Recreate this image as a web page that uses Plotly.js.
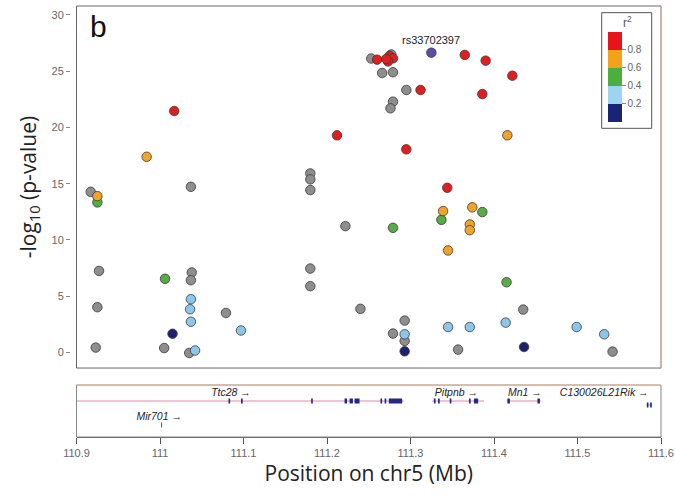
<!DOCTYPE html>
<html>
<head>
<meta charset="utf-8">
<script src="https://cdn.plot.ly/plotly-3.0.1.min.js"></script>
<style>html,body{margin:0;padding:0;background:#fff;}#chart{width:675px;height:500px;}</style>
</head>
<body>
<div id="chart"></div>
<script>
// ---- SNP association data (position in Mb, -log10 p, LD bin) ----
const snpPos = [110.917,110.925,110.925,110.927,110.925,110.923,110.984,111.017,111.006,111.015,
  111.005,111.037,111.038,111.037,111.037,111.036,111.037,111.035,111.042,111.079,
  111.097,111.180,111.180,111.180,111.180,111.180,111.222,111.212,111.240,111.253,
  111.260,111.277,111.275,111.279,111.273,111.271,111.266,111.279,111.279,111.276,
  111.295,111.312,111.325,111.365,111.390,111.422,111.386,111.416,111.295,111.344,
  111.339,111.337,111.374,111.386,111.279,111.371,111.371,111.345,111.415,111.435,
  111.293,111.279,111.293,111.293,111.293,111.357,111.345,111.371,111.414,111.436,
  111.499,111.532,111.542];
const snpLogP = [14.27,13.89,13.33,7.24,4.01,0.42,17.39,21.46,6.54,1.65,
  0.38,14.72,7.10,6.41,4.72,3.83,2.72,-0.06,0.16,3.50,
  1.94,15.91,15.38,14.43,7.45,5.88,11.22,19.30,3.87,26.13,
  26.03,26.49,26.36,26.15,25.87,26.09,24.84,24.91,22.29,21.70,
  23.33,23.33,26.65,26.45,25.94,24.60,22.97,19.30,18.05,14.63,
  12.56,11.78,12.89,12.47,11.07,11.37,10.86,9.06,6.23,3.80,
  2.82,1.67,1.60,1.01,0.09,0.24,2.25,2.25,2.64,0.47,
  2.25,1.60,0.06];
const snpLD = ['na','0.6-0.8','0.4-0.6','na','na','na','0.6-0.8','0.8-1','0.4-0.6','0-0.2',
  'na','na','na','na','0.2-0.4','0.2-0.4','0.2-0.4','na','0.2-0.4','na',
  '0.2-0.4','na','na','na','na','na','na','0.8-1','na','na',
  '0.8-1','na','0.8-1','0.8-1','0.8-1','0.8-1','na','na','na','na',
  'na','0.8-1','lead','0.8-1','0.8-1','0.8-1','0.8-1','0.6-0.8','0.8-1','0.8-1',
  '0.6-0.8','0.4-0.6','0.6-0.8','0.4-0.6','0.4-0.6','0.6-0.8','0.6-0.8','0.6-0.8','0.4-0.6','na',
  'na','na','0.2-0.4','na','0-0.2','na','0.2-0.4','0.2-0.4','0.2-0.4','0-0.2',
  '0.2-0.4','0.2-0.4','na'];
const leadSnp = 'rs33702397';

// ---- LD bins & legend ----
const ldBins = ['na','0-0.2','0.2-0.4','0.4-0.6','0.6-0.8','0.8-1','lead'];
const legendTicks = [0.2, 0.4, 0.6, 0.8];
const legendTickText = ['0.2','0.4','0.6','0.8'];
const legendTitle = 'r<sup>2</sup>';

// ---- Gene track ----
const geneNames = ['Ttc28','Pitpnb','Mn1','C130026L21Rik','Mir701'];
const geneStart = [110.900,111.326,111.416,111.583,111.002];
const geneEnd   = [111.292,111.388,111.456,111.589,111.002];
const geneRow   = [0,0,0,-0.5,-3];
const geneLabelX = [111.085,111.355,111.437,111.532,110.999];
const geneLabelRow = [1,1,1,1,-2];
const exonGene  = [0,0,0,0,0,0,0,0,0, 1,1,1,1,1, 2,2, 3,3, 4];
const exonStart = [111.082,111.097,111.181,111.221,111.227,111.233,111.264,111.269,111.274,
  111.328,111.333,111.347,111.370,111.376, 111.416,111.452, 111.583,111.587, 111.0015];
const exonEnd   = [111.084,111.099,111.183,111.224,111.231,111.239,111.266,111.271,111.290,
  111.330,111.335,111.349,111.372,111.381, 111.419,111.455, 111.585,111.589, 111.0025];

// ---- axis ticks ----
const yTicks = [0,5,10,15,20,25,30];
const xTicks = [110.9,111.0,111.1,111.2,111.3,111.4,111.5,111.6];
const xTickText = ['110.9','111','111.1','111.2','111.3','111.4','111.5','111.6'];

// ---- styles ----
const ldColors = {'na':'#8e8e8e','0-0.2':'#1c2172','0.2-0.4':'#8cc6ea','0.4-0.6':'#55ad45',
  '0.6-0.8':'#f2a42a','0.8-1':'#e31c1f','lead':'#5b4ea8'};

const traces = [];
ldBins.forEach(bin => {
  const xs = [], ys = [];
  snpLD.forEach((b, i) => { if (b === bin) { xs.push(snpPos[i]); ys.push(snpLogP[i]); } });
  traces.push({
    type: 'scatter', mode: 'markers', x: xs, y: ys, xaxis: 'x', yaxis: 'y',
    marker: {size: 9.5, color: ldColors[bin], line: {color: '#3a3a3a', width: 0.8}},
    showlegend: false, hoverinfo: 'x+y'
  });
});

// colour bar legend
traces.push({
  type: 'scatter', mode: 'markers', x: [null], y: [null], xaxis: 'x', yaxis: 'y',
  showlegend: false, hoverinfo: 'skip',
  marker: {
    color: [0], cmin: 0, cmax: 1, showscale: true,
    colorscale: [[0,'#1a2474'],[0.2,'#1a2474'],[0.2,'#9fd3ef'],[0.4,'#9fd3ef'],[0.4,'#4cae3c'],
      [0.6,'#4cae3c'],[0.6,'#f4a21b'],[0.8,'#f4a21b'],[0.8,'#e8141c'],[1,'#e8141c']],
    colorbar: {
      x: 0.9036, xanchor: 'left', y: 0.9473, yanchor: 'top',
      thicknessmode: 'pixels', thickness: 14, lenmode: 'pixels', len: 96,
      xpad: 6, ypad: 3, outlinewidth: 0, borderwidth: 0,
      tickvals: legendTicks, ticktext: legendTickText, ticks: 'outside', ticklen: 4,
      tickcolor: '#888', tickfont: {family: 'Liberation Sans, Arial', size: 10, color: '#666'}
    }
  }
});

// gene transcript lines
const gx = [], gy = [];
geneNames.forEach((g, i) => { if (geneEnd[i] > geneStart[i]) { gx.push(geneStart[i], geneEnd[i], null); gy.push(geneRow[i], geneRow[i], null); } });
traces.push({type: 'scatter', mode: 'lines', x: gx, y: gy, xaxis: 'x2', yaxis: 'y2',
  line: {color: '#e08aa8', width: 1}, showlegend: false, hoverinfo: 'skip'});
// exons
const ex = [], ey = [];
exonStart.forEach((s, i) => { ex.push(s, exonEnd[i], null); const r = geneRow[exonGene[i]]; ey.push(r, r, null); });
traces.push({type: 'scatter', mode: 'lines', x: ex, y: ey, xaxis: 'x2', yaxis: 'y2',
  line: {color: '#1f2a8a', width: 5}, showlegend: false, hoverinfo: 'skip'});
// gene labels
traces.push({type: 'scatter', mode: 'text', x: geneLabelX, y: geneLabelRow, xaxis: 'x2', yaxis: 'y2',
  text: geneNames.map(n => '<i>' + n + '</i> \u2192'), textposition: 'middle center',
  textfont: {family: 'Liberation Sans, Arial', size: 10.5, color: '#222'},
  showlegend: false, hoverinfo: 'skip'});

const leadIdx = snpLD.indexOf('lead');
const xd0 = 0.0496, upperBottom = 0.160, lowerTop = 0.1206;

const layout = {
  width: 675, height: 500,
  margin: {l: 46, r: 14, t: 6, b: 63},
  paper_bgcolor: '#ffffff', plot_bgcolor: '#ffffff',
  font: {family: 'Liberation Sans, Arial', color: '#444'},
  xaxis: {domain: [xd0, 1], range: [110.9, 111.6], anchor: 'y', showticklabels: false, ticks: '',
    showgrid: false, zeroline: false, showline: false},
  yaxis: {domain: [upperBottom, 1], range: [-1.4, 30.8], anchor: 'free', position: 0.039,
    tickvals: yTicks, ticks: 'outside', ticklen: 4, tickcolor: '#888',
    tickfont: {size: 11, color: '#666'}, showgrid: false, zeroline: false, showline: false,
    title: {text: '-log<sub>10</sub> (p-value)', font: {family: 'Open Sans', size: 21, color: '#222'}, standoff: 8}},
  xaxis2: {domain: [xd0, 1], range: [110.9, 111.6], anchor: 'y2', tickvals: xTicks, ticktext: xTickText,
    ticks: 'outside', ticklen: 6, tickcolor: '#555', showline: true, linecolor: '#555', linewidth: 1,
    tickfont: {size: 11, color: '#666'}, showgrid: false, zeroline: false,
    title: {text: 'Position on chr5 (Mb)', font: {family: 'Open Sans', size: 21, color: '#222'}, standoff: 4}},
  yaxis2: {domain: [0, lowerTop], range: [-4.5, 2], anchor: 'x2', visible: false, fixedrange: true},
  shapes: [
    {type: 'rect', xref: 'paper', yref: 'paper', x0: xd0, x1: 1, y0: upperBottom, y1: 1, line: {color: '#666', width: 1}},
    {type: 'line', xref: 'paper', yref: 'paper', x0: 1, x1: 1, y0: upperBottom, y1: 1, line: {color: '#e6b89a', width: 1}},
    {type: 'rect', xref: 'paper', yref: 'paper', x0: xd0, x1: 1, y0: 0, y1: lowerTop, line: {color: '#888', width: 1}},
    {type: 'line', xref: 'paper', yref: 'paper', x0: xd0, x1: 1, y0: lowerTop, y1: lowerTop, line: {color: '#e6b89a', width: 1}},
    {type: 'rect', xref: 'paper', yref: 'paper', x0: 0.9036, x1: 0.9849, y0: 0.7162, y1: 0.9845, line: {color: '#555', width: 1}}
  ],
  annotations: [
    {text: 'b', xref: 'paper', yref: 'paper', x: 0.068, y: 0.995, xanchor: 'left', yanchor: 'top',
      showarrow: false, font: {family: 'Liberation Sans, Arial', size: 30, color: '#111'}},
    {text: leadSnp, xref: 'x', yref: 'y', x: snpPos[leadIdx], y: snpLogP[leadIdx], yshift: 13,
      showarrow: false, font: {family: 'Liberation Sans, Arial', size: 11, color: '#222'}},
    {text: legendTitle, xref: 'paper', yref: 'paper', x: 0.9463, y: 0.963, xanchor: 'center', yanchor: 'middle',
      showarrow: false, font: {family: 'Liberation Sans, Arial', size: 12, color: '#555'}}
  ]
};

Plotly.newPlot('chart', traces, layout, {displayModeBar: false, staticPlot: true});
</script>
</body>
</html>
